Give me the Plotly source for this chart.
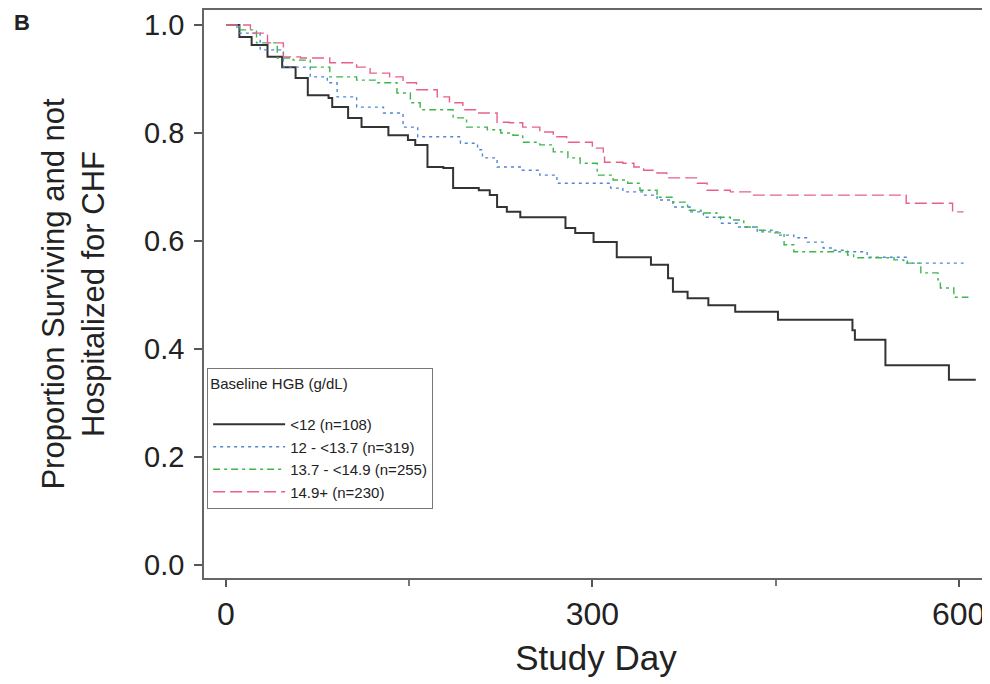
import plotly.graph_objects as go

# ---- data ----
days_lt12 = [0, 11, 21, 34, 46, 57, 67, 84, 87, 100, 111, 133, 149, 155, 165, 178, 186, 207, 216, 222, 230, 241,
             278, 286, 301, 320, 348, 362, 366, 378, 395, 417, 452, 513, 515, 540, 592, 614]
surv_lt12 = [1.0, 0.978, 0.963, 0.941, 0.922, 0.902, 0.870, 0.865, 0.848, 0.828, 0.811, 0.796, 0.787, 0.778, 0.737,
             0.735, 0.698, 0.694, 0.685, 0.663, 0.654, 0.644, 0.624, 0.615, 0.598, 0.570, 0.556, 0.531, 0.506, 0.494,
             0.481, 0.469, 0.454, 0.435, 0.417, 0.370, 0.343, 0.343]

days_12_137 = [0, 11, 28, 47, 69, 83, 91, 107, 129, 145, 157, 192, 206, 210, 222, 241, 257, 271, 315, 325, 342, 353,
               366, 380, 391, 405, 419, 435, 452, 465, 476, 489, 498, 509, 525, 558, 604]
surv_12_137 = [1.0, 0.985, 0.954, 0.922, 0.904, 0.893, 0.867, 0.848, 0.837, 0.811, 0.793, 0.781, 0.769, 0.754, 0.737,
               0.731, 0.722, 0.707, 0.698, 0.691, 0.685, 0.676, 0.663, 0.654, 0.644, 0.633, 0.626, 0.617, 0.611, 0.606,
               0.598, 0.587, 0.583, 0.580, 0.570, 0.559, 0.559]

days_137_149 = [0, 9, 25, 42, 55, 69, 85, 107, 124, 140, 151, 159, 186, 197, 214, 225, 235, 243, 257, 268, 280, 290,
                304, 317, 329, 339, 353, 366, 378, 389, 402, 413, 424, 435, 448, 457, 465, 509, 514, 547, 555, 569,
                583, 585, 596, 608]
surv_137_149 = [1.0, 0.991, 0.967, 0.939, 0.935, 0.922, 0.904, 0.898, 0.893, 0.874, 0.856, 0.843, 0.828, 0.811, 0.806,
                0.800, 0.796, 0.783, 0.778, 0.765, 0.754, 0.744, 0.722, 0.713, 0.707, 0.694, 0.681, 0.672, 0.657, 0.652,
                0.644, 0.639, 0.626, 0.620, 0.615, 0.593, 0.580, 0.574, 0.569, 0.565, 0.559, 0.541, 0.528, 0.513,
                0.496, 0.496]

days_149p = [0, 20, 34, 47, 61, 85, 107, 118, 134, 145, 156, 173, 183, 194, 205, 222, 232, 243, 257, 268, 279, 300,
             309, 310, 325, 334, 342, 353, 361, 386, 394, 413, 432, 557, 595, 604]
surv_149p = [1.0, 0.985, 0.967, 0.941, 0.939, 0.930, 0.922, 0.911, 0.904, 0.893, 0.880, 0.867, 0.856, 0.843, 0.837,
             0.820, 0.819, 0.811, 0.802, 0.793, 0.783, 0.772, 0.763, 0.746, 0.744, 0.737, 0.731, 0.726, 0.717, 0.707,
             0.694, 0.691, 0.685, 0.670, 0.654, 0.654]

series_names = ["<12 (n=108)", "12 - <13.7 (n=319)", "13.7 - <14.9 (n=255)", "14.9+ (n=230)"]
x_ticks = [0, 300, 600]
x_minor_ticks = [150, 450]
y_ticks = [0.0, 0.2, 0.4, 0.6, 0.8, 1.0]
y_tick_labels = ["0.0", "0.2", "0.4", "0.6", "0.8", "1.0"]

series = [
    (days_lt12, surv_lt12, dict(color="#333333", width=2.0, dash="solid")),
    (days_12_137, surv_12_137, dict(color="#4f86d6", width=1.4, dash="3px,4px")),
    (days_137_149, surv_137_149, dict(color="#3fb54e", width=1.4, dash="7px,4px,3px,4px")),
    (days_149p, surv_149p, dict(color="#e8608a", width=1.4, dash="12px,5px")),
]

fig = go.Figure()
for (xs, ys, ln), name in zip(series, series_names):
    fig.add_trace(go.Scatter(x=xs, y=ys, mode="lines", line_shape="hv", line=ln, name=name))

font_main = "Liberation Sans, Arial, sans-serif"
# page body has an 8px default margin, so the figure is sized to fit inside the window
fig.update_layout(
    width=982, height=676,
    margin=dict(l=196, r=2, t=2, b=106),
    paper_bgcolor="white", plot_bgcolor="white",
    font=dict(family=font_main, color="#222"),
    showlegend=True,
    legend=dict(
        x=0.004, y=0.3697, xanchor="left", yanchor="top",
        bordercolor="#777", borderwidth=1, bgcolor="white",
        font=dict(size=15, color="#222"),
        title=dict(text="Baseline HGB (g/dL)<br> ", font=dict(size=15, color="#222")),
        tracegroupgap=0, itemwidth=72,
    ),
    xaxis=dict(
        automargin=False,
        range=[-18, 624], tickvals=x_ticks, ticktext=[str(v) for v in x_ticks],
        ticks="outside", ticklen=7, tickcolor="#555", tickwidth=1.5,
        minor=dict(tickvals=x_minor_ticks, ticks="outside", ticklen=6, tickcolor="#777"),
        showline=True, linecolor="#666", linewidth=1.5, mirror=True,
        showgrid=False, zeroline=False,
        tickfont=dict(size=32, color="#222"),
        ticklabelstandoff=0,
        title=dict(text="Study Day", font=dict(size=35, color="#222"), standoff=14),
    ),
    yaxis=dict(
        automargin=False,
        range=[-0.024, 1.0278], tickvals=y_ticks, ticktext=y_tick_labels,
        ticks="outside", ticklen=8, tickcolor="#555", tickwidth=1.5,
        showline=True, linecolor="#666", linewidth=1.5, mirror=True,
        showgrid=False, zeroline=False,
        tickfont=dict(size=29, color="#222"),
        ticklabelstandoff=4,
        title=dict(text="Proportion Surviving and not<br>Hospitalized for CHF",
                   font=dict(size=31, color="#222"),
                   standoff=30),
    ),
)

fig.add_annotation(text="<b>B</b>", xref="paper", yref="paper", x=-0.245, y=1.004,
                   xanchor="left", yanchor="top", showarrow=False,
                   font=dict(size=22, color="#222", family=font_main))

fig.write_html("out.html")
